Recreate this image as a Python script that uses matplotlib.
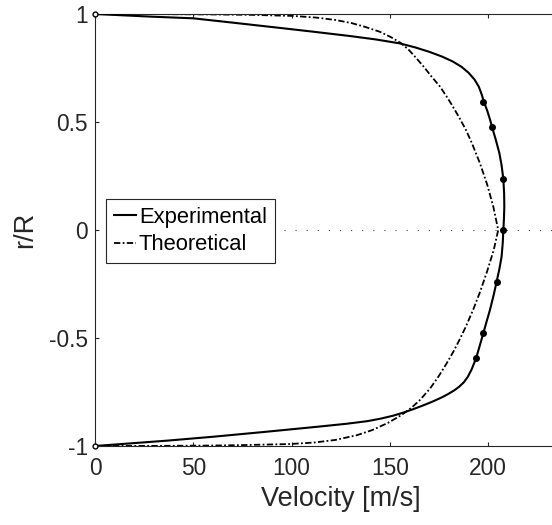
import matplotlib
matplotlib.use("Agg")
import matplotlib.pyplot as plt

plt.rcParams["font.family"] = ["Liberation Sans", "DejaVu Sans"]

# experimental profile (fitted curve)
exp_r = [1.0, 0.994, 0.988, 0.98, 0.958, 0.934, 0.917, 0.898, 0.882, 0.864,
         0.845, 0.825, 0.803, 0.780, 0.755, 0.728, 0.697, 0.664, 0.630, 0.597,
         0.55, 0.509, 0.475, 0.42, 0.355, 0.30, 0.236, 0.17, 0.108, 0.05,
         0.0, -0.06, -0.124, -0.18, -0.239, -0.30, -0.370, -0.42, -0.478, -0.536,
         -0.594, -0.645, -0.680, -0.705, -0.725, -0.742, -0.758, -0.774, -0.792, -0.810,
         -0.828, -0.845, -0.860, -0.873, -0.885, -0.897, -0.911, -0.935, -0.957, -0.975,
         -0.988, -1.0]
exp_v = [0, 14, 28, 50, 72, 95.6, 112, 129.7, 143, 155,
         163, 170, 176.5, 182, 186.5, 190, 193, 195.2, 196.6, 197.7,
         199.6, 201, 202, 203.8, 205.7, 206.8, 207.7, 208.1, 208.2, 208,
         207.7, 207.4, 206.8, 205.7, 204.3, 202.8, 200.9, 199.3, 197.5, 195.7,
         193.8, 191.6, 189.6, 187.6, 185.3, 182.8, 179.9, 176.6, 172.3, 167.5,
         162.3, 157, 151.5, 145.5, 138.5, 128, 113, 86, 60.2, 37,
         17.8, 0]

# measured points
pts_r = [1.0, 0.593, 0.475, 0.236, 0.0, -0.239, -0.478, -0.594, -1.0]
pts_v = [0, 197.5, 201.8, 207.7, 207.7, 204.3, 197.5, 193.8, 0]

# theoretical profile
th_r = [1.0, 0.9993, 0.998, 0.996, 0.991, 0.983, 0.972, 0.958, 0.940, 0.918,
        0.893, 0.866, 0.835, 0.800, 0.755, 0.710, 0.665, 0.620, 0.575, 0.525,
        0.463, 0.40, 0.309, 0.21, 0.108, 0.0, -0.093, -0.19, -0.293, -0.37,
        -0.448, -0.501, -0.560, -0.620, -0.680, -0.733, -0.787, -0.822, -0.856, -0.893,
        -0.926, -0.950, -0.972, -0.984, -0.991, -0.996, -0.998, -0.9993, -1.0]
th_v = [0, 35, 60, 80, 101, 113, 122.5, 130.5, 137.5, 144.8,
        150.5, 155.5, 159.5, 163, 167.3, 171.2, 175.4, 178.7, 181.8, 185,
        188.7, 191.8, 195.8, 199.5, 202.6, 205.1, 202.8, 199.5, 195.6, 192.3,
        188.6, 185.8, 182.5, 178.7, 174.6, 170.5, 165.3, 161.1, 156, 149,
        141.1, 133.2, 122.2, 111.4, 98.8, 73.8, 58, 35, 0]

txt = "#262626"

fig = plt.figure(figsize=(5.52, 5.25), dpi=100)
ax = fig.add_axes([95 / 552, 79 / 525, 491.5 / 552, 432 / 525])

ax.plot([0, 250], [0, 0], color="#444444", lw=0.8, ls=(0, (1, 9)), zorder=1)
l1, = ax.plot(exp_v, exp_r, color="black", lw=1.5, label="Experimental", zorder=3)
ax.plot(pts_v[1:-1], pts_r[1:-1], "o", color="black", ms=4, zorder=4)
ax.plot([pts_v[0], pts_v[-1]], [pts_r[0], pts_r[-1]], "o", mfc="white",
        mec="black", ms=3.5, mew=1, zorder=4, clip_on=False)
l2, = ax.plot(th_v, th_r, color="black", lw=1.3, dashes=(3.5, 1.3, 1, 1.3),
              label="Theoretical", zorder=2)

ax.set_xlim(0, 250)
ax.set_ylim(-1, 1)
ax.set_xticks([0, 50, 100, 150, 200])
ax.set_yticks([-1, -0.5, 0, 0.5, 1])
ax.set_yticklabels(["-1", "-0.5", "0", "0.5", "1"])

for s in ax.spines.values():
    s.set_color(txt)
    s.set_linewidth(0.8)
ax.tick_params(direction="in", length=3, width=0.8, color=txt, labelcolor=txt,
               labelsize=16.4, top=True, right=False)
ax.tick_params(axis="x", pad=8)
ax.tick_params(axis="y", pad=5)

ax.set_xlabel("Velocity [m/s]", fontsize=19.5, color=txt, labelpad=4)
ax.set_ylabel("r/R", fontsize=19.5, color=txt, labelpad=8)

leg = ax.legend(handles=[l1, l2], loc="upper left",
                bbox_to_anchor=(106 / 552, 1 - 199 / 525),
                bbox_transform=fig.transFigure, borderaxespad=0,
                fontsize=15.8, handlelength=1.0, handletextpad=0.15,
                labelspacing=0.3, borderpad=0.35, fancybox=False,
                framealpha=1, edgecolor=txt)
leg.get_frame().set_linewidth(0.8)
for t in leg.get_texts():
    t.set_color("black")

fig.savefig("out.png", dpi=100)
